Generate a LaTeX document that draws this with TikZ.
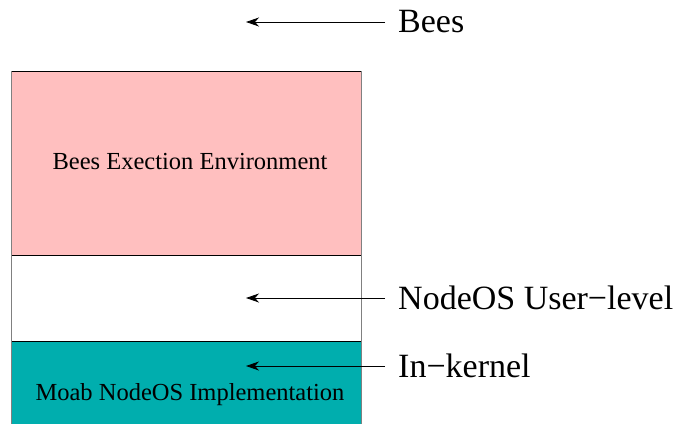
\documentclass[tikz,border=0pt]{standalone}
\usepackage{fontspec}
\setmainfont{Liberation Serif}
\usetikzlibrary{arrows.meta}
\begin{document}
\begin{tikzpicture}[x=1pt,y=-1pt,
  boxtext/.style={font=\fontsize{24.5}{28}\selectfont},
  sidelabel/.style={anchor=west,inner xsep=13pt,inner ysep=0pt,font=\fontsize{34}{40}\selectfont},
  pointer/.style={-{Stealth[length=13pt,width=9pt,inset=4pt]},line width=0.9pt}]
\useasboundingbox (0,0) rectangle (678,424);
\definecolor{envpink}{HTML}{FFBFBF}
\definecolor{kernteal}{HTML}{00AEAE}
% stacked layers
\fill[envpink] (11,71) rectangle (361,255);
\fill[kernteal] (11,341) rectangle (361,424);
\draw[black,line width=0.8pt] (11,71) -- (361,71);
\draw[black,line width=0.8pt] (11,255) -- (361,255);
\draw[black,line width=0.8pt] (11,341) -- (361,341);
\draw[gray,line width=0.8pt] (11,71) -- (11,424);
\draw[gray,line width=0.8pt] (361,71) -- (361,424);
\node[boxtext] (env) at (190,162) {Bees Exection Environment};
\node[boxtext] (moab) at (190,395) {Moab NodeOS Implementation};
% labels and pointers
\node[sidelabel] (bees) at (385,22) {Bees};
\node[sidelabel] (user) at (385,298) {NodeOS User−level};
\node[sidelabel] (kern) at (385,366) {In−kernel};
\coordinate (beesTip) at (246,22);
\coordinate (userTip) at (246,298);
\coordinate (kernTip) at (246,366);
\draw[pointer] (bees.west) -- (beesTip);
\draw[pointer] (user.west) -- (userTip);
\draw[pointer] (kern.west) -- (kernTip);
\end{tikzpicture}
\end{document}
